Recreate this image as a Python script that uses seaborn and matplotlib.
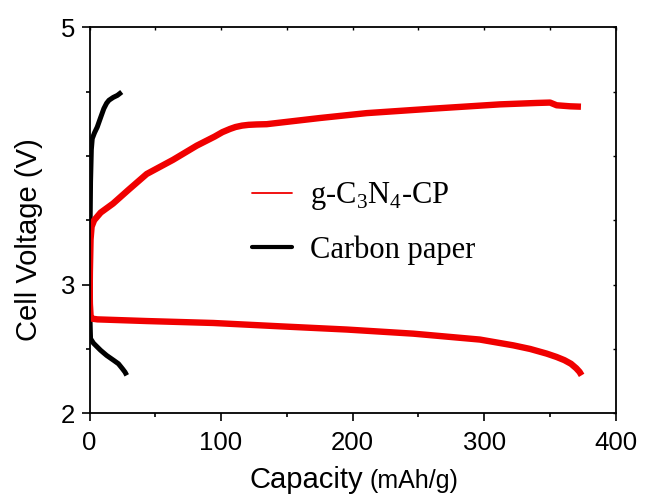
import matplotlib
matplotlib.use("Agg")
import matplotlib.pyplot as plt
import seaborn as sns
import pandas as pd
from matplotlib.lines import Line2D

# ---- data ----
gcn_charge_cap = [0, 0.3, 0.8, 1.6, 3.5, 8.5, 17.9, 30, 43.5, 63.5, 81.5, 95, 101,
                  106.8, 111, 116, 121, 127, 134.7, 160, 175.2, 210.7, 261.3, 312, 340,
                  350.1, 355.1, 365.3, 373.6]
gcn_charge_v = [2.78, 3.10, 3.35, 3.45, 3.50, 3.56, 3.63, 3.74, 3.86, 3.97, 4.08, 4.15,
                4.185, 4.21, 4.225, 4.236, 4.242, 4.245, 4.247, 4.277, 4.295, 4.333,
                4.368, 4.401, 4.412, 4.415, 4.394, 4.386, 4.383]
gcn_dis_cap = [0, 0.3, 0.8, 1.7, 6, 43.5, 94.1, 144.8, 195.5, 246.1, 296.8, 322.2, 335,
               347.5, 355, 361, 366, 370, 372.5, 374.1]
gcn_dis_v = [3.05, 2.85, 2.76, 2.736, 2.73, 2.717, 2.702, 2.676, 2.651, 2.619, 2.573,
             2.528, 2.50, 2.464, 2.438, 2.413, 2.385, 2.35, 2.322, 2.295]
cp_charge_cap = [0, 0.3, 0.8, 1.4, 2.1, 3.8, 5.9, 8.5, 10.9, 13, 14.8, 18, 21.2, 24.5]
cp_charge_v = [2.57, 3.30, 3.80, 4.05, 4.135, 4.18, 4.225, 4.30, 4.368, 4.41, 4.433,
               4.455, 4.471, 4.497]
cp_dis_cap = [0, 0.3, 0.8, 3, 8.4, 13, 18.6, 22, 25, 27, 28.3]
cp_dis_v = [3.30, 2.75, 2.58, 2.545, 2.49, 2.45, 2.41, 2.385, 2.347, 2.32, 2.295]

legend_labels = ["g-C$_\\mathregular{3}$N$_\\mathregular{4}$-CP", "Carbon paper"]
xticks = [0, 100, 200, 300, 400]
yticks = [2, 3, 5]
yminor = [2.5, 3.5, 4, 4.5]
xminor = [50, 150, 250, 350]

RED = "#f00000"
BLACK = "#000000"

sns.set_style("ticks")
plt.rcParams["font.family"] = ["Liberation Sans", "DejaVu Sans"]
plt.rcParams["text.color"] = "black"
plt.rcParams["axes.labelcolor"] = "black"
plt.rcParams["xtick.color"] = "black"
plt.rcParams["ytick.color"] = "black"

fig = plt.figure(figsize=(6.46, 4.97), dpi=100)
ax = fig.add_axes([89.5 / 646, 1 - 413.3 / 497, (615.7 - 89.5) / 646, (413.3 - 27.3) / 497])

def seg(cap, v):
    return pd.DataFrame({"cap": cap, "v": v})

sns.lineplot(data=seg(cp_charge_cap, cp_charge_v), x="cap", y="v", sort=False,
             estimator=None, color=BLACK, lw=3.6, ax=ax)
sns.lineplot(data=seg(cp_dis_cap, cp_dis_v), x="cap", y="v", sort=False,
             estimator=None, color=BLACK, lw=3.6, ax=ax)
sns.lineplot(data=seg(gcn_dis_cap, gcn_dis_v), x="cap", y="v", sort=False,
             estimator=None, color=RED, lw=4.6, ax=ax)
sns.lineplot(data=seg(gcn_charge_cap, gcn_charge_v), x="cap", y="v", sort=False,
             estimator=None, color=RED, lw=4.6, ax=ax)
for ln in ax.lines:
    ln.set_solid_joinstyle("round")
    ln.set_solid_capstyle("butt")

ax.set_xlim(0, 400)
ax.set_ylim(2, 5)
ax.set_xticks(xticks)
ax.set_xticks(xminor, minor=True)
ax.set_yticks(yticks)
ax.set_yticks(yminor, minor=True)
ax.set_xlabel("")
ax.set_ylabel("")
for s in ax.spines.values():
    s.set_visible(True)
    s.set_linewidth(1.3)
    s.set_color("black")
ax.tick_params(which="major", direction="out", length=5.5, width=1.2, labelsize=18.5,
               pad=5, colors="black")
ax.tick_params(which="minor", direction="out", length=2.8, width=1.2, colors="black")
ax.tick_params(axis="x", which="major", pad=7)

# mirrored inward ticks on top / right
top = ax.secondary_xaxis("top")
top.set_xticks(xticks)
top.set_xticks(xminor, minor=True)
top.tick_params(which="both", direction="in", length=2.5, width=1.0, labeltop=False,
                colors="black")
right = ax.secondary_yaxis("right")
right.set_yticks(yticks)
right.set_yticks(yminor, minor=True)
right.tick_params(which="both", direction="in", length=2.5, width=1.0, labelright=False,
                  colors="black")
for a in (top, right):
    for s in a.spines.values():
        s.set_visible(False)

# axis labels
fig.text(29 / 646, 1 - 240 / 497, "Cell Voltage (V)", rotation=90, ha="center",
         va="center", fontsize=21, color="black")
fig.text(363 / 646, 1 - 488 / 497, "Capacity", ha="right", va="baseline", fontsize=21,
         color="black")
fig.text(369 / 646, 1 - 488 / 497, "(mAh/g)", ha="left", va="baseline", fontsize=18,
         color="black")

handles = [Line2D([], [], color=RED, lw=1.3), Line2D([], [], color=BLACK, lw=3.0)]
ax.legend(handles, legend_labels, loc="center left", bbox_to_anchor=(0.309, 0.494),
          frameon=False, borderpad=0, borderaxespad=0, handlelength=1.3,
          handletextpad=0.6, labelspacing=0.75,
          prop={"family": "Liberation Serif", "size": 22})

fig.savefig("out.png", dpi=100)
